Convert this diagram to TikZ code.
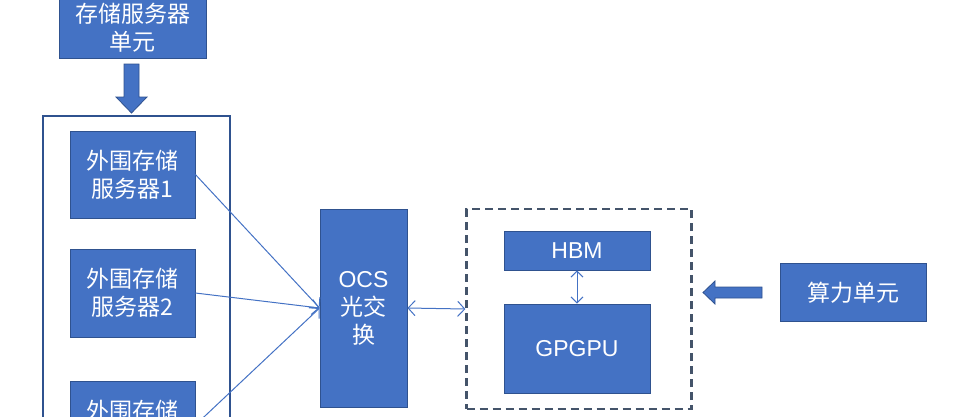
\documentclass[tikz,border=0pt]{standalone}
\usepackage{fontspec}
\setmainfont{Liberation Sans}
\newfontfamily\cjk{Noto Sans CJK SC}
\usetikzlibrary{arrows.meta}
\usetikzlibrary{calc}
\definecolor{boxblue}{HTML}{4472C4}
\definecolor{edgeblue}{HTML}{2F528F}
\definecolor{slate}{HTML}{44546A}

\begin{document}
\begin{tikzpicture}[x=1pt, y=-1pt,
    unit/.style={draw=edgeblue, fill=boxblue, text=white, line width=0.8pt, align=center, inner sep=0pt, font=\fontsize{23}{28}\selectfont},
    hanunit/.style={unit, font=\cjk\fontsize{23}{28}\selectfont},
    link/.style={draw=boxblue, line width=1pt, -{Straight Barb[length=7pt,width=15pt]}},
    twoway/.style={draw=boxblue, line width=1pt, {Straight Barb[length=7pt,width=15pt]}-{Straight Barb[length=7pt,width=15pt]}},
    fatarrow/.style={draw=edgeblue, fill=boxblue, line width=0.8pt}]
    \useasboundingbox (0,0) rectangle (976,416);
    % storage side
    \node[hanunit, minimum width=147pt, minimum height=60pt] (store) at (132.5,28) {存储服务器\\单元};
    \node[draw=edgeblue, line width=1.6pt, minimum width=187pt, minimum height=354pt] (rack) at (136.5,293) {};
    \node[hanunit, minimum width=125pt, minimum height=87pt] (srv1) at (132.5,174.5) {外围存储\\服务器1};
    \node[hanunit, minimum width=125pt, minimum height=88pt] (srv2) at (132.5,293) {外围存储\\服务器2};
    \node[hanunit, minimum width=125pt, minimum height=87pt] (srv3) at (132.5,425) {外围存储\\服务器3};
    \node[unit, minimum width=87pt, minimum height=198pt] (ocs) at (363.5,308) {OCS\\{\cjk 光交}\\{\cjk 换}};
    % compute side
    \node[draw=slate, line width=2.2pt, dash pattern=on 8pt off 5pt, minimum width=225pt, minimum height=200pt] (gpu) at (579,309) {};
    \node[unit, minimum width=146pt, minimum height=39pt] (hbm) at (577,250.5) {HBM};
    \node[unit, minimum width=146pt, minimum height=89pt] (gpgpu) at (577,348.5) {GPGPU};
    \node[hanunit, minimum width=146pt, minimum height=58pt] (calc) at (853,292.5) {算力单元};
    % links
    \draw[link] (srv1.east) -- (ocs.west);
    \draw[link] (srv2.east) -- (ocs.west);
    \draw[link] (srv3.east) -- (ocs.west);
    \draw[twoway] (ocs.east) -- (gpu.west);
    \draw[draw=boxblue, line width=1pt, {Straight Barb[length=6pt,width=12pt]}-{Straight Barb[length=6pt,width=12pt]}] (hbm.south) -- (gpgpu.north);
    % block arrows
    \draw[fatarrow] (124,64) -- (139,64) -- (139,97) -- (147,97) -- (131.5,113) -- (116,97) -- (124,97) -- cycle;
    \draw[fatarrow] (762,287) -- (715,287) -- (715,281) -- (703,292.5) -- (715,304) -- (715,298) -- (762,298) -- cycle;
\end{tikzpicture}
\end{document}
